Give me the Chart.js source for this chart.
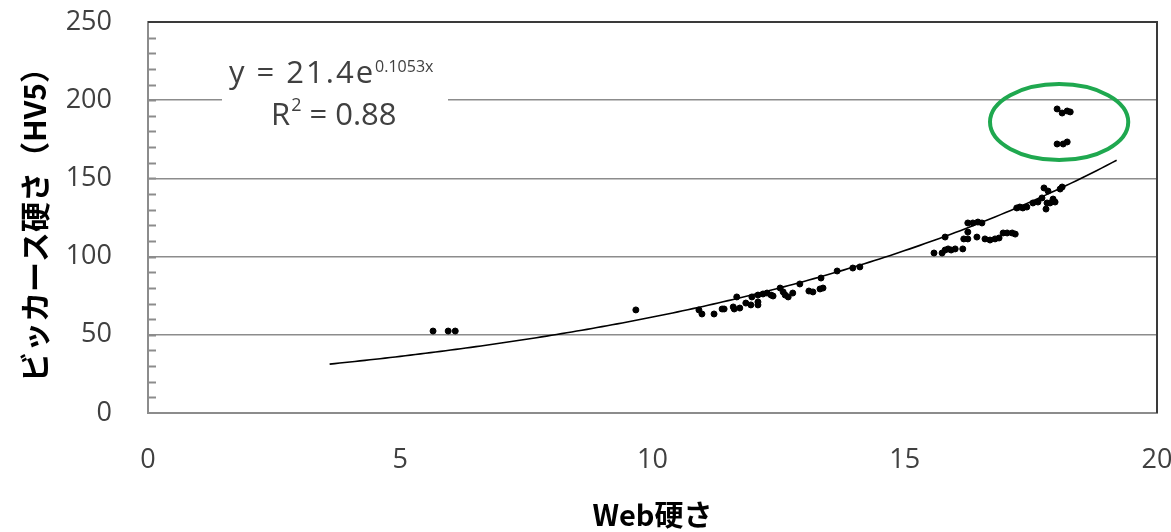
<!DOCTYPE html>
<html>
<head>
<meta charset="utf-8">
<script src="https://cdn.jsdelivr.net/npm/chart.js@4.4.1/dist/chart.umd.min.js"></script>
<style>
  html, body { margin: 0; padding: 0; background: #fff; }
  #wrap { width: 1171px; height: 532px; }
</style>
</head>
<body>
<div id="wrap"><canvas id="hvChart" width="1171" height="532"></canvas></div>
<script>
// measured points: Web hardness (x) vs Vickers hardness HV5 (y)
const webHardness = [
    5.65, 5.95, 6.09, 9.67,
    10.92, 10.98, 11.22, 11.38, 11.42, 11.60, 11.62, 11.73, 11.67, 11.85,
    11.95, 11.97, 12.09, 12.09, 12.09, 12.19, 12.27, 12.35, 12.39, 12.53,
    12.59, 12.63, 12.69, 12.78, 12.92, 13.10, 13.18, 13.32, 13.38, 13.34,
    13.66, 13.97, 14.11,
    15.58, 15.74, 15.80, 15.86, 15.92, 16.00, 16.15, 15.80, 16.17, 16.25,
    16.25, 16.25, 16.35, 16.45, 16.53, 16.43, 16.59, 16.69, 16.79, 16.87,
    16.95, 17.03, 17.13, 17.19, 17.22, 17.28, 17.34, 17.42, 17.54, 17.64,
    17.72, 17.76, 17.84, 17.82, 17.80, 17.88, 17.98, 17.94, 18.08, 18.12,
    18.02, 18.12, 18.22, 18.28, 18.02, 18.14, 18.22
];
const vickersHardness = [
    52.4, 52.4, 52.4, 65.9,
    65.9, 63.3, 63.3, 66.5, 66.5, 67.8, 66.5, 67.1, 74.2, 70.3,
    69.1, 74.2, 71.0, 69.1, 75.4, 76.1, 76.7, 75.4, 74.8, 79.9,
    77.4, 75.4, 74.2, 76.7, 82.5, 78.0, 77.4, 79.3, 79.9, 86.3,
    90.8, 92.7, 93.4,
    102.3, 102.3, 104.2, 104.9, 104.2, 104.9, 104.9, 112.5, 111.3, 111.3,
    115.7, 121.5, 121.5, 122.1, 121.5, 112.5, 111.3, 110.6, 111.3, 111.9,
    115.1, 115.1, 115.1, 114.4, 131.1, 131.7, 131.1, 131.7, 134.3, 134.9,
    137.5, 143.9, 141.9, 134.3, 130.4, 134.3, 134.9, 136.8, 143.2, 144.5,
    194.4, 191.8, 193.1, 192.5, 172.0, 172.0, 173.3
];

// exponential trendline as printed on the chart
const trendA = 21.4;
const trendB = 0.1053;
const trendFrom = 3.6;
const trendTo = 19.27;
const equationText = "y = 21.4e";
const equationExp = "0.1053x";
const rSquaredText = "R";
const rSquaredRest = " = 0.88";

const xTicks = [0, 5, 10, 15, 20];
const yTicks = [0, 50, 100, 150, 200, 250];

// highlighted outliers (data units)
const outlierCenter = { x: 18.06, y: 186 };
const outlierRadius = { x: 1.37, y: 24.3 };

const points = webHardness.map((x, i) => ({ x: x, y: vickersHardness[i] }));

const trendPoints = [];
for (let x = trendFrom; x <= trendTo + 0.001; x += 0.1) {
    trendPoints.push({ x: x, y: trendA * Math.exp(trendB * x) });
}

const tickFont = { family: "'Open Sans', 'Noto Sans', sans-serif", size: 27 };
const titleFont = { family: "'Noto Sans CJK JP', sans-serif", size: 29, weight: "bold" };

const extras = {
    id: "extras",
    afterDraw(chart) {
        const ctx = chart.ctx;
        const area = chart.chartArea;
        const xs = chart.scales.x;
        const ys = chart.scales.y;
        ctx.save();

        // minor ticks on the value axis, pointing inside
        ctx.strokeStyle = "#8c8c8c";
        ctx.lineWidth = 2;
        for (let v = 10; v < 250; v += 10) {
            const py = Math.round(ys.getPixelForValue(v)) + 0.5;
            ctx.beginPath();
            ctx.moveTo(area.left, py);
            ctx.lineTo(area.left + 8, py);
            ctx.stroke();
        }

        // top and right frame
        ctx.strokeStyle = "#3a3a3a";
        ctx.lineWidth = 2;
        ctx.beginPath();
        ctx.moveTo(area.left, area.top);
        ctx.lineTo(area.right, area.top);
        ctx.lineTo(area.right, area.bottom);
        ctx.stroke();

        // equation label
        ctx.fillStyle = "#fff";
        ctx.fillRect(area.left + 74, area.top + 38, 226, 90);
        ctx.fillStyle = "#404040";
        ctx.textBaseline = "alphabetic";
        ctx.textAlign = "left";
        const ex = area.left + 81;
        ctx.font = "31px 'Open Sans', sans-serif";
        ctx.letterSpacing = "2px";
        ctx.fillText(equationText, ex, area.top + 61);
        const w1 = ctx.measureText(equationText).width;
        ctx.letterSpacing = "0px";
        ctx.font = "16px 'Open Sans', sans-serif";
        ctx.fillText(equationExp, ex + w1, area.top + 50);
        const rx = area.left + 123;
        ctx.font = "31px 'Open Sans', sans-serif";
        ctx.fillText(rSquaredText, rx, area.top + 103);
        const wr = ctx.measureText(rSquaredText).width;
        ctx.font = "18px 'Open Sans', sans-serif";
        ctx.fillText("2", rx + wr + 1, area.top + 89);
        const w2 = ctx.measureText("2").width;
        ctx.font = "31px 'Open Sans', sans-serif";
        ctx.fillText(rSquaredRest, rx + wr + w2 + 1, area.top + 103);

        // green ellipse round the outliers
        const cx = xs.getPixelForValue(outlierCenter.x);
        const cy = ys.getPixelForValue(outlierCenter.y);
        const rxp = xs.getPixelForValue(outlierCenter.x + outlierRadius.x) - cx;
        const ryp = cy - ys.getPixelForValue(outlierCenter.y + outlierRadius.y);
        ctx.strokeStyle = "#1fa84f";
        ctx.lineWidth = 4;
        ctx.beginPath();
        ctx.ellipse(cx, cy, rxp, ryp, 0, 0, Math.PI * 2);
        ctx.stroke();

        ctx.restore();
    }
};

new Chart(document.getElementById("hvChart").getContext("2d"), {
    type: "scatter",
    data: {
        datasets: [
            {
                label: "trend",
                data: trendPoints,
                showLine: true,
                borderColor: "#000",
                borderWidth: 1.6,
                pointRadius: 0,
                tension: 0,
                order: 2
            },
            {
                label: "data",
                data: points,
                backgroundColor: "#000",
                borderColor: "#000",
                pointRadius: 3,
                pointStyle: "circle",
                order: 1
            }
        ]
    },
    options: {
        responsive: false,
        animation: false,
        layout: { padding: { top: 22, right: 14, left: 0, bottom: 0 } },
        plugins: {
            legend: { display: false },
            tooltip: { enabled: false }
        },
        scales: {
            x: {
                type: "linear",
                min: 0,
                max: 20,
                afterBuildTicks: s => { s.ticks = xTicks.map(v => ({ value: v })); },
                afterFit: s => { s.height = 119; s.paddingLeft = 0; s.paddingRight = 0; },
                grid: { display: false, drawTicks: false },
                border: { color: "#8c8c8c", width: 2 },
                ticks: { font: tickFont, color: "#404040", padding: 31, maxRotation: 0 },
                title: {
                    display: true,
                    text: "Web硬さ",
                    font: titleFont,
                    color: "#000",
                    padding: { top: 0, bottom: 0 }
                }
            },
            y: {
                type: "linear",
                min: 0,
                max: 250,
                afterBuildTicks: s => { s.ticks = yTicks.map(v => ({ value: v })); },
                afterFit: s => { s.width = 148; s.paddingTop = 0; s.paddingBottom = 0; },
                grid: {
                    drawTicks: false,
                    lineWidth: 1.5,
                    color: c => (c.tick && c.tick.value > 0 && c.tick.value < 250) ? "#8c8c8c" : "rgba(0,0,0,0)"
                },
                border: { color: "#8c8c8c", width: 2 },
                ticks: { font: tickFont, color: "#404040", padding: 36 },
                title: {
                    display: true,
                    text: "ビッカース硬さ（HV5）",
                    font: { family: "'Noto Sans CJK JP', sans-serif", size: 30, weight: "bold" },
                    color: "#000",
                    padding: { top: 17, bottom: 0 }
                }
            }
        }
    },
    plugins: [extras]
});
</script>
</body>
</html>
